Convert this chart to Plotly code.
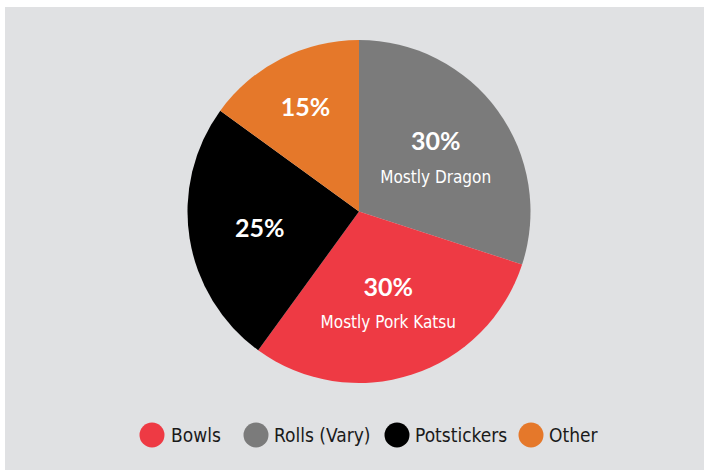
import plotly.graph_objects as go

# Data
slice_labels = ["Rolls (Vary)", "Bowls", "Potstickers", "Other"]
slice_values = [30, 30, 25, 15]
slice_notes = ["Mostly Dragon", "Mostly Pork Katsu", "", ""]
slice_colors = ["#7b7b7b", "#ee3a44", "#000000", "#e5782a"]

legend_labels = ["Bowls", "Rolls (Vary)", "Potstickers", "Other"]
legend_colors = ["#ee3a44", "#7b7b7b", "#000000", "#e5782a"]

W, H = 705, 471
BG = "#e0e1e3"
NARROW = "Liberation Sans Narrow, DejaVu Sans Condensed, sans-serif"

texts = []
for v, n in zip(slice_values, slice_notes):
    t = "<b>%d%%</b>" % v
    if n:
        t += "<br><span style='font-size:17px;font-family:%s'>%s</span>" % (NARROW, n)
    texts.append(t)

# pie geometry (pixels)
PCX, PCY, PR = 359, 211.5, 171.5

fig = go.Figure()
fig.add_trace(go.Pie(
    labels=slice_labels,
    values=slice_values,
    text=texts,
    textinfo="text",
    textposition="inside",
    insidetextorientation="horizontal",
    sort=False,
    direction="clockwise",
    rotation=0,
    marker=dict(colors=slice_colors, line=dict(width=0)),
    textfont=dict(color="white", size=25, family="Lato, Open Sans, sans-serif"),
    domain=dict(x=[(PCX - PR) / W, (PCX + PR) / W],
                y=[1 - (PCY + PR) / H, 1 - (PCY - PR) / H]),
    showlegend=False,
    hoverinfo="label+percent",
))

shapes = [dict(type="rect", xref="paper", yref="paper",
               x0=5 / W, x1=704 / W, y0=1 - 470 / H, y1=1 - 7 / H,
               fillcolor=BG, line=dict(width=0), layer="below")]
annotations = []
circle_cx = [152, 256, 397, 531]
text_x = [169, 272, 413, 547]
ly = 435
rad = 12.5
for cx, tx, lab, col in zip(circle_cx, text_x, legend_labels, legend_colors):
    shapes.append(dict(type="circle", xref="paper", yref="paper",
                       x0=(cx - rad) / W, x1=(cx + rad) / W,
                       y0=1 - (ly + rad) / H, y1=1 - (ly - rad) / H,
                       fillcolor=col, line=dict(width=0)))
    annotations.append(dict(x=tx / W, y=1 - ly / H, xref="paper", yref="paper",
                            text=lab, showarrow=False, xanchor="left", yanchor="middle",
                            font=dict(size=19, color="#1a1a1a", family=NARROW)))

fig.update_layout(
    width=W, height=H,
    margin=dict(l=0, r=0, t=0, b=0),
    paper_bgcolor="white",
    plot_bgcolor=BG,
    shapes=shapes,
    annotations=annotations,
)

fig.write_html("out.html")
